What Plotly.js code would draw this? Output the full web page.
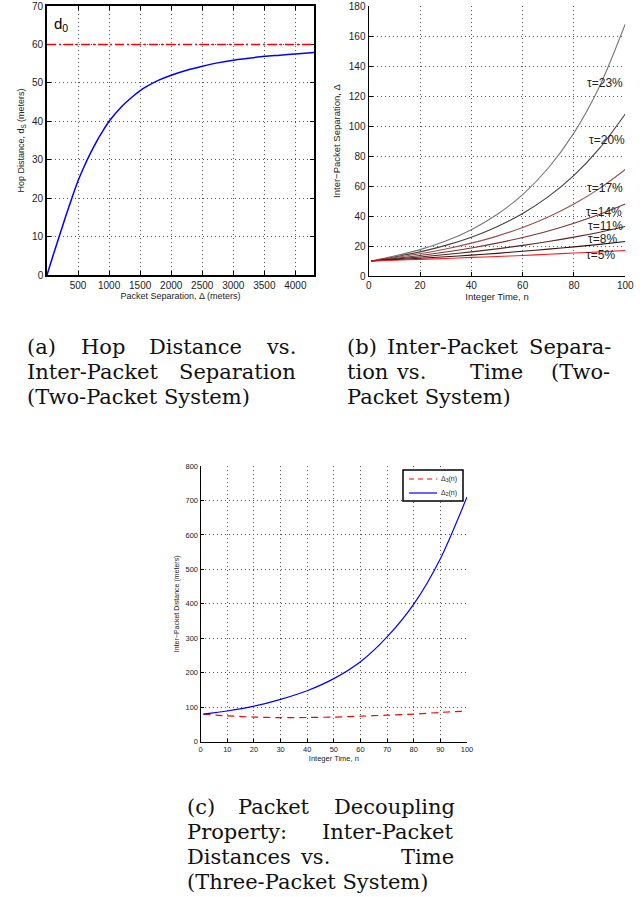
<!DOCTYPE html>
<html>
<head>
<meta charset="utf-8">
<script src="https://cdn.plot.ly/plotly-3.0.1.min.js"></script>
<style>html,body{margin:0;padding:0;background:#fff;}#chart{width:644px;height:897px;}</style>
</head>
<body>
<div id="chart"></div>
<script>
// ---------- Panel (a): Hop distance vs packet separation ----------
const aSeparation = [0, 100, 200, 300, 400, 500, 600, 700, 800, 900, 1000, 1200, 1400, 1500, 1600, 1800, 2000, 2250, 2500, 2750, 3000, 3250, 3500, 3750, 4000, 4300];
const aHopDistance = [0, 5.2, 10.2, 15.2, 20.0, 24.5, 28.3, 31.7, 34.8, 37.5, 40.0, 43.8, 46.7, 48.0, 49.0, 50.7, 52.0, 53.3, 54.3, 55.2, 55.9, 56.4, 56.9, 57.2, 57.5, 57.9];
const aD0 = 60;
const aXTicks = [500, 1000, 1500, 2000, 2500, 3000, 3500, 4000];

// ---------- Panel (b): Inter-packet separation vs time ----------
const bTime = [1, 10, 20, 30, 40, 50, 60, 70, 80, 90, 100];
const bTau23 = [10, 13.3, 17.6, 23.3, 30.9, 41.0, 54.3, 72.0, 95.4, 126.5, 168];
const bTau20 = [10, 12.7, 16.1, 20.4, 25.9, 32.9, 41.7, 52.9, 67.1, 85.2, 108];
const bTau17 = [10, 12.2, 14.8, 18.0, 21.9, 26.6, 32.4, 39.4, 48.0, 58.4, 71];
const bTau14 = [10, 11.7, 13.7, 16.0, 18.7, 21.9, 25.7, 30.0, 35.1, 41.1, 48];
const bTau11 = [10, 11.3, 12.7, 14.3, 16.1, 18.1, 20.4, 23.0, 25.9, 29.2, 33];
const bTau8  = [10, 10.9, 11.8, 12.8, 13.9, 15.1, 16.5, 17.9, 19.4, 21.1, 23];
const bTau5  = [10, 10.5, 11.1, 11.7, 12.4, 13.0, 13.7, 14.5, 15.3, 16.1, 17];
const bSeries = [bTau23, bTau20, bTau17, bTau14, bTau11, bTau8, bTau5];
const bLabels = ['τ=23%', 'τ=20%', 'τ=17%', 'τ=14%', 'τ=11%', 'τ=8%', 'τ=5%'];
const bLabelX = [92, 93, 92, 91.7, 92.3, 91, 90.5];
const bLabelY = [129, 91, 59, 42.7, 33.3, 24.5, 14];
const bColors = ['#777777', '#404040', '#9e4c4c', '#7c3434', '#552424', '#2e1515', '#ff1a1a'];

// ---------- Panel (c): Packet decoupling ----------
const cTime = [1, 10, 20, 30, 40, 50, 60, 70, 80, 90, 100];
const cDelta2 = [80, 89, 103, 123, 148, 183, 232, 304, 399, 531, 710];
const cDelta3 = [80, 75, 71.5, 69.8, 70.3, 71.5, 74, 77, 80, 85, 89];
const cNames = ['Δ<sub>3</sub>(n)', 'Δ<sub>2</sub>(n)'];
const cColors = ['#ff0000', '#0000ff'];
const cDashes = ['5px,4px', 'solid'];

const serif = 'DejaVu Serif, Liberation Serif, serif';
const sans = 'Liberation Sans, Arial, Helvetica, sans-serif';

const traces = [];
traces.push({x: aSeparation, y: aHopDistance, xaxis: 'x', yaxis: 'y', type: 'scatter', mode: 'lines',
  line: {color: '#0000ff', width: 1.5, shape: 'spline', smoothing: 0.8}, showlegend: false, hoverinfo: 'skip'});

bSeries.forEach((s, i) => {
  traces.push({x: bTime, y: s, xaxis: 'x2', yaxis: 'y2', type: 'scatter', mode: 'lines',
    line: {color: bColors[i], width: 1.1, shape: 'spline', smoothing: 0.8}, showlegend: false, hoverinfo: 'skip'});
});

traces.push({x: cTime, y: cDelta3, xaxis: 'x3', yaxis: 'y3', type: 'scatter', mode: 'lines', name: cNames[0],
  line: {color: cColors[0], width: 1.2, dash: '7px,5px', shape: 'spline', smoothing: 0.8}, showlegend: false, hoverinfo: 'skip'});
traces.push({x: cTime, y: cDelta2, xaxis: 'x3', yaxis: 'y3', type: 'scatter', mode: 'lines', name: cNames[1],
  line: {color: cColors[1], width: 1.2, shape: 'spline', smoothing: 0.8}, showlegend: false, hoverinfo: 'skip'});

function axisBase(extra) {
  return Object.assign({
    ticks: 'inside', ticklen: 4, tickcolor: '#000', tickwidth: 1,
    showline: true, linecolor: '#000', linewidth: 1.2,
    showgrid: true, gridcolor: '#555', griddash: '1px,3px', gridwidth: 1,
    zeroline: false, tickfont: {family: sans, size: 10, color: '#222'}
  }, extra);
}

const W = 644, H = 897;
const px = v => v / W;
const py = v => 1 - v / H;

const annotations = [];
annotations.push({xref: 'x', yref: 'y', x: 80, y: 62.2, xanchor: 'left', yanchor: 'bottom', showarrow: false,
  text: 'd<sub>0</sub>', font: {family: sans, size: 15, color: '#000'}});
bLabels.forEach((t, i) => {
  annotations.push({xref: 'x2', yref: 'y2', x: bLabelX[i], y: bLabelY[i], xanchor: 'center', yanchor: 'middle',
    showarrow: false, text: t, font: {family: sans, size: 12, color: '#222'}});
});

// Custom legend for panel (c)
const legY = [479, 493];
const shapes = [
  {type: 'line', xref: 'x domain', yref: 'y', x0: 0, x1: 1, y0: aD0, y1: aD0,
    line: {color: '#ff0000', width: 1.5, dash: '9px,3px,2px,3px'}},
  {type: 'rect', xref: 'paper', yref: 'paper', x0: px(403), x1: px(463), y0: py(501), y1: py(470),
    line: {color: '#000', width: 1.5}, fillcolor: '#fff', layer: 'above'}
];
cNames.forEach((n, i) => {
  shapes.push({type: 'line', xref: 'paper', yref: 'paper', x0: px(409), x1: px(437), y0: py(legY[i]), y1: py(legY[i]),
    line: {color: cColors[i], width: 1.2, dash: cDashes[i]}, layer: 'above'});
  annotations.push({xref: 'paper', yref: 'paper', x: px(439), y: py(legY[i]), xanchor: 'left', yanchor: 'middle',
    showarrow: false, text: n, font: {family: sans, size: 7, color: '#222'}});
});

// Captions (word-positioned to mimic justified LaTeX text)
const captionWords = [
  ['(a)', 25, 347], ['Hop', 78.6, 347], ['Distance', 147, 347], ['vs.', 264, 347],
  ['Inter-Packet', 25, 372], ['Separation', 177.4, 372],
  ['(Two-Packet System)', 25, 397],
  ['(b)', 345, 347], ['Inter-Packet', 385, 347], ['Separa-', 527.3, 347],
  ['tion', 345, 372], ['vs.', 394, 372], ['Time', 468, 372], ['(Two-', 549, 372],
  ['Packet System)', 345, 397],
  ['(c)', 185, 807], ['Packet', 236.4, 807], ['Decoupling', 331.6, 807],
  ['Property:', 185, 832], ['Inter-Packet', 320, 832],
  ['Distances', 185, 857], ['vs.', 298, 857], ['Time', 398.9, 857],
  ['(Three-Packet System)', 185, 882]
];
captionWords.forEach(w => {
  annotations.push({xref: 'paper', yref: 'paper', x: px(w[1]), y: py(w[2]), xanchor: 'left', yanchor: 'middle',
    showarrow: false, text: w[0], font: {family: serif, size: 21, color: '#111'}});
});

const layout = {
  width: W, height: H,
  margin: {l: 0, r: 0, t: 0, b: 0},
  paper_bgcolor: '#fff', plot_bgcolor: '#fff',
  font: {family: sans, size: 10, color: '#222'},
  showlegend: false,
  xaxis: axisBase({domain: [px(47), px(314)], anchor: 'y', range: [0, 4300], tickvals: aXTicks,
    mirror: 'ticks', linewidth: 1.8,
    title: {text: 'Packet Separation, Δ (meters)', font: {family: sans, size: 9, color: '#222'}, standoff: 2}}),
  yaxis: axisBase({domain: [py(275), py(6)], anchor: 'x', range: [0, 70], dtick: 10,
    mirror: 'ticks', linewidth: 1.8,
    title: {text: 'Hop Distance, d<sub>S</sub> (meters)', font: {family: sans, size: 9, color: '#222'}, standoff: 6}}),
  xaxis2: axisBase({domain: [px(368.7), px(625.3)], anchor: 'y2', range: [0, 100], dtick: 20,
    title: {text: 'Integer Time, n', font: {family: sans, size: 9.5, color: '#222'}, standoff: 2}}),
  yaxis2: axisBase({domain: [py(276), py(6)], anchor: 'x2', range: [0, 180], dtick: 20,
    title: {text: 'Inter−Packet Separation, Δ', font: {family: sans, size: 9.5, color: '#222'}, standoff: 6}}),
  xaxis3: axisBase({domain: [px(200.7), px(467)], anchor: 'y3', range: [0, 100], dtick: 10, ticklen: 3,
    tickfont: {family: sans, size: 7.5, color: '#222'},
    title: {text: 'Integer Time, n', font: {family: sans, size: 7.5, color: '#222'}, standoff: 2}}),
  yaxis3: axisBase({domain: [py(741.7), py(466)], anchor: 'x3', range: [0, 800], dtick: 100, ticklen: 3,
    tickfont: {family: sans, size: 7.5, color: '#222'},
    title: {text: 'Inter−Packet Distance (meters)', font: {family: sans, size: 7, color: '#222'}, standoff: 5}}),
  shapes: shapes,
  annotations: annotations
};

Plotly.newPlot('chart', traces, layout, {staticPlot: true, displayModeBar: false});
</script>
</body>
</html>
